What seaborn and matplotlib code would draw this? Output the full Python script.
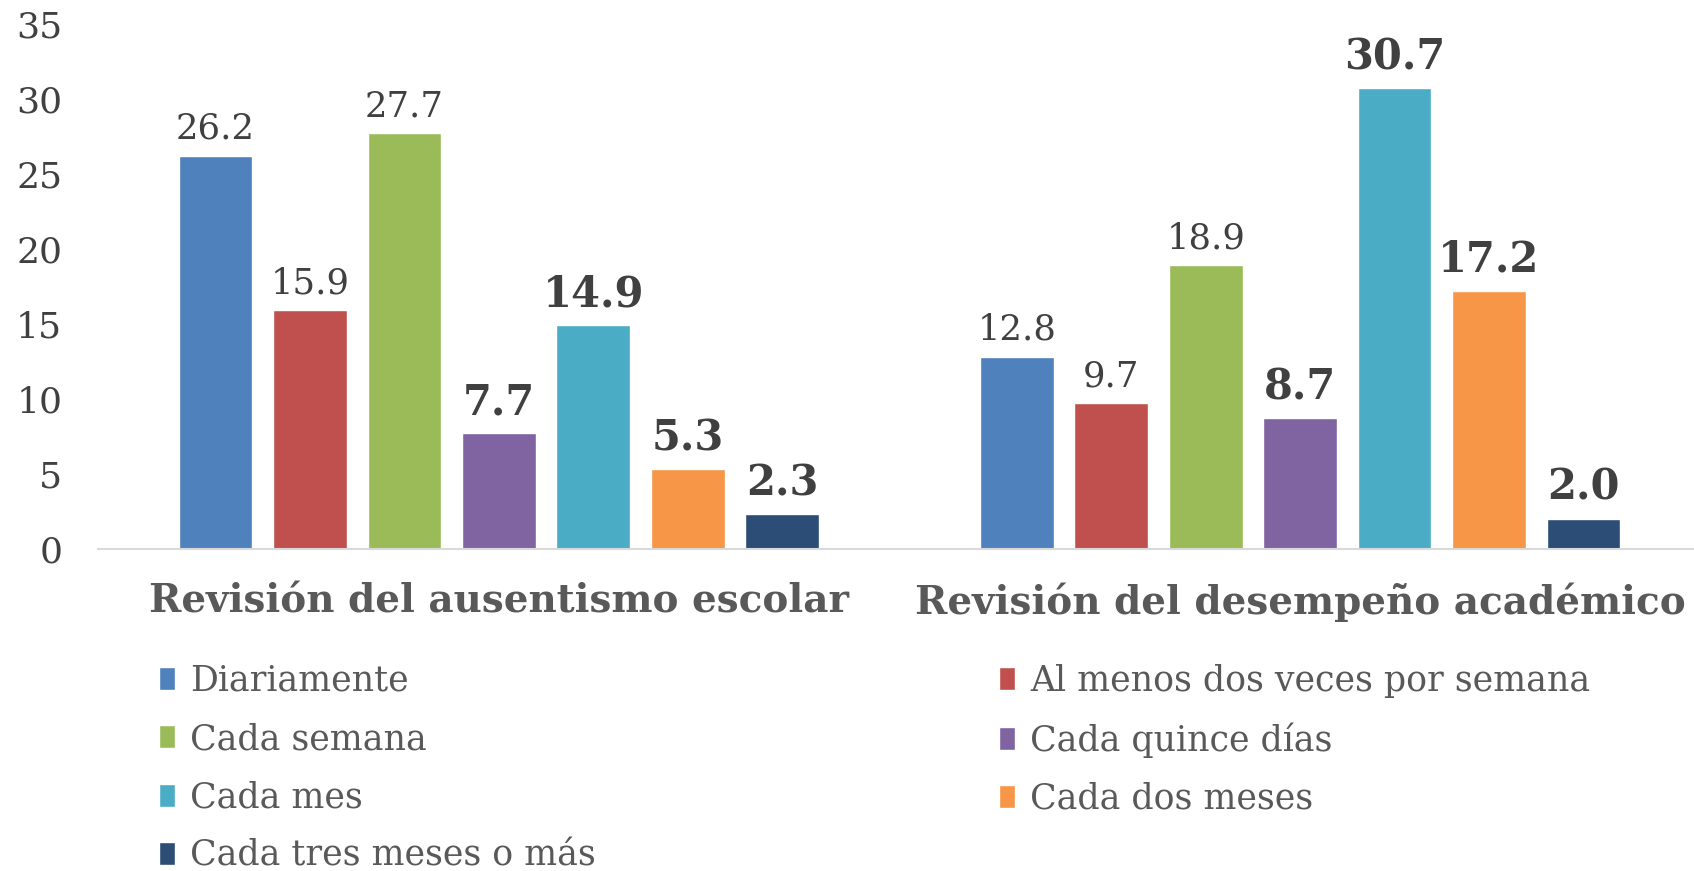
import numpy as np
import pandas as pd
import matplotlib
matplotlib.use("Agg")
import matplotlib.pyplot as plt
import seaborn as sns

grupos = ["Revisión del ausentismo escolar", "Revisión del desempeño académico"]
frecuencias = ["Diariamente", "Al menos dos veces por semana", "Cada semana",
               "Cada quince días", "Cada mes", "Cada dos meses",
               "Cada tres meses o más"]
ausentismo = [26.2, 15.9, 27.7, 7.7, 14.9, 5.3, 2.3]
desempeno = [12.8, 9.7, 18.9, 8.7, 30.7, 17.2, 2.0]
colores = ["#4F81BD", "#C0504D", "#9BBB59", "#8064A2", "#4BACC6", "#F79646", "#2C4D75"]
# en el original algunas etiquetas van en negrita
negrita_aus = [False, False, False, True, True, True, True]
negrita_des = [False, False, False, True, True, True, True]
yticks = [0, 5, 10, 15, 20, 25, 30, 35]

sns.set_style("white")
plt.rcParams['font.family'] = ['DejaVu Serif', 'DejaVu Sans']

df = pd.DataFrame({
    "grupo": np.repeat(grupos, len(frecuencias)),
    "frecuencia": frecuencias * 2,
    "valor": ausentismo + desempeno,
})

fig = plt.figure(figsize=(16.94, 8.71), dpi=100)
ax = fig.add_axes([0.058, 0.370, 0.946, 0.603])
sns.barplot(data=df, x="grupo", y="valor", hue="frecuencia",
            hue_order=frecuencias, palette=colores, saturation=1,
            width=0.825, gap=0.22, ax=ax)

handles, labels = ax.get_legend_handles_labels()
ax.get_legend().remove()

negritas = [negrita_aus, negrita_des]
for i, cont in enumerate(ax.containers):
    texts = ax.bar_label(cont, fmt="%.1f", padding=7, color="#404040")
    for j, t in enumerate(texts):
        if negritas[j][i]:
            t.set_fontweight("bold")
            t.set_fontsize(30)
        else:
            t.set_fontsize(25.5)

ax.set_xlim(-0.5, 1.5)
ax.set_ylim(0, 35)
ax.set_yticks(yticks)
ax.set_xlabel("")
ax.set_ylabel("")
ax.tick_params(axis="y", length=0, pad=26, labelsize=26, labelcolor="#404040")
ax.tick_params(axis="x", length=0, pad=24, labelsize=28, labelcolor="#595959")
for t in ax.get_xticklabels():
    t.set_fontweight("bold")
for s in ["left", "right", "top"]:
    ax.spines[s].set_visible(False)
ax.spines["bottom"].set_color("#D9D9D9")
ax.spines["bottom"].set_linewidth(1.5)

orden = [[0, 2, 4, 6], [1, 3, 5]]
for k, x0 in enumerate([0.094, 0.590]):
    leg = fig.legend([handles[i] for i in orden[k]], [labels[i] for i in orden[k]],
                     loc="upper left", bbox_to_anchor=(x0, 0.238), frameon=False,
                     fontsize=25, labelcolor="#595959", borderpad=0, borderaxespad=0,
                     handlelength=0.46, handleheight=0.65, handletextpad=0.42,
                     labelspacing=0.7)

fig.savefig("out.png", dpi=100)
